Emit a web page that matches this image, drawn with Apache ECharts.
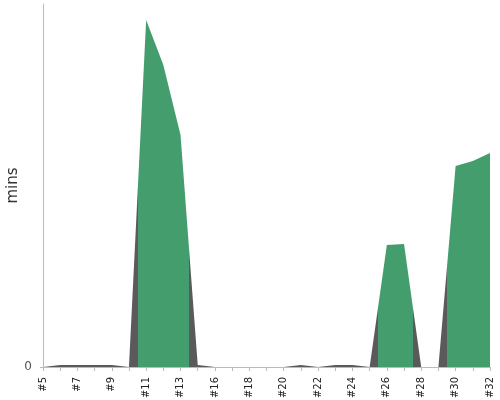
<!DOCTYPE html>
<html>
<head>
<meta charset="utf-8">
<script src="https://cdn.jsdelivr.net/npm/echarts@6/dist/echarts.min.js"></script>
<style>html,body{margin:0;padding:0;background:#fff}#c{width:500px;height:400px}</style>
</head>
<body>
<div id="c"></div>
<script>
var categories = ['#5','#6','#7','#8','#9','#10','#11','#12','#13','#14','#16','#17','#18','#19','#20','#21','#22','#23','#24','#25','#26','#27','#28','#29','#30','#31','#32'];
var minutes = [0,2,2,2,2,0,347,302,232,2,0,0,0,0,0,2,0,2,2,0,122,123,0,0,201,206,214];
var yTickLabels = [0];
var highlightRanges = [[5.5, 8.5], [19.5, 21.5], [23.5, 26]];

var GREEN = '#439d6c', GRAY = '#5a5a5a';
var seriesData = categories.map(function (c, i) { return [i, minutes[i]]; });

var chart = echarts.init(document.getElementById('c'), null, {renderer: 'canvas'});
chart.setOption({
  animation: false,
  backgroundColor: '#fff',
  grid: {left: 43, right: 10, top: 4, bottom: 33, containLabel: false, outerBoundsMode: 'none'},
  xAxis: {
    type: 'value', min: 0, max: categories.length - 1, interval: 1,
    offset: 5,
    splitLine: {show: false},
    axisLine: {show: true, lineStyle: {color: '#bbb', width: 1}},
    axisTick: {show: true, length: 4, lineStyle: {color: '#bbb'}},
    axisLabel: {
      rotate: 90, margin: 5, fontSize: 10, color: '#222', fontFamily: 'DejaVu Sans',
      showMinLabel: true, showMaxLabel: true, hideOverlap: false,
      formatter: function (v) { return (v % 2 === 0 && categories[v]) ? categories[v] : ''; }
    }
  },
  yAxis: {
    type: 'value', min: 0, max: 363, interval: 363,
    offset: 3,
    name: 'mins', nameLocation: 'middle', nameGap: 19, nameMoveOverlap: false,
    nameTextStyle: {fontSize: 15, color: '#333', fontFamily: 'DejaVu Sans'},
    splitLine: {show: false},
    axisLine: {show: true, lineStyle: {color: '#bbb', width: 1}},
    axisTick: {show: true, length: 3, customValues: yTickLabels, lineStyle: {color: '#bbb'}},
    axisLabel: {customValues: yTickLabels, fontSize: 12, color: '#555', margin: 8, fontFamily: 'DejaVu Sans'}
  },
  visualMap: {
    type: 'piecewise', show: false, dimension: 0, seriesIndex: 0,
    pieces: highlightRanges.map(function (r) { return {gt: r[0], lt: r[1], color: GREEN}; }),
    outOfRange: {color: GRAY}
  },
  series: [{
    type: 'line',
    data: seriesData,
    showSymbol: false,
    symbol: 'none',
    lineStyle: {width: 0},
    areaStyle: {opacity: 1},
    silent: true
  }]
});
</script>
</body>
</html>
